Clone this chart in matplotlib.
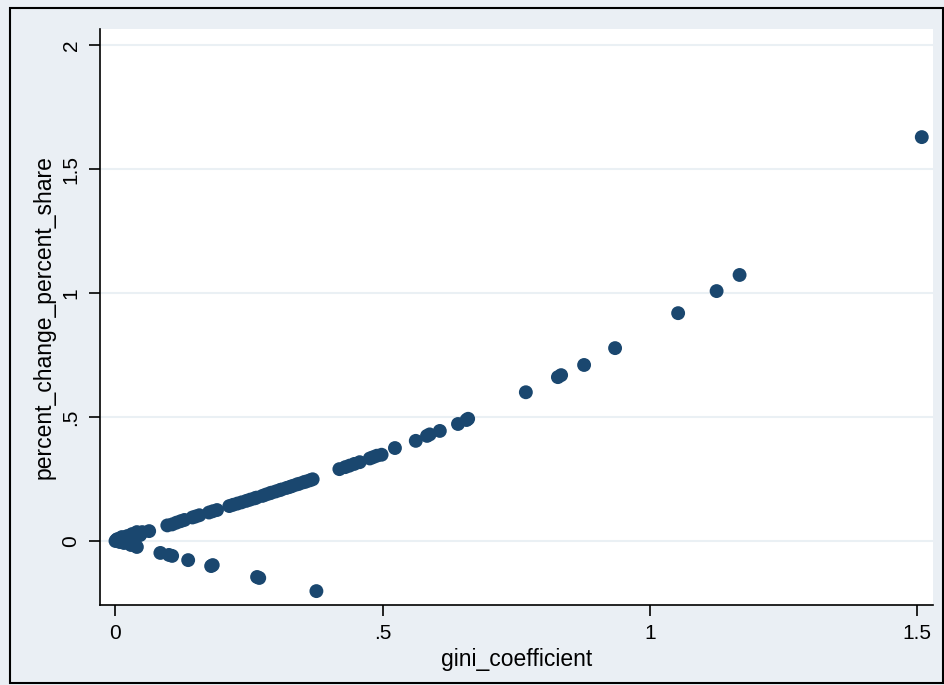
import matplotlib
matplotlib.use("Agg")
import matplotlib.pyplot as plt
from matplotlib.patches import Rectangle

# Data
gini_coefficient = [
    0.000, 0.002, 0.004, 0.012, 0.022, 0.031, 0.040, 0.050, 0.016, 0.029, 0.040, 0.046, 0.063,
    0.097, 0.106, 0.114, 0.122, 0.129, 0.144, 0.150, 0.157, 0.175, 0.182, 0.190, 0.213, 0.220,
    0.228, 0.236, 0.245, 0.252, 0.260, 0.264, 0.275, 0.281, 0.288, 0.292, 0.300, 0.307, 0.311,
    0.320, 0.326, 0.331, 0.339, 0.344, 0.352, 0.357, 0.364, 0.369,
    0.419, 0.430, 0.438, 0.447, 0.457, 0.476, 0.482, 0.489, 0.498, 0.523, 0.562, 0.583, 0.588,
    0.607, 0.641, 0.657, 0.660, 0.768, 0.828, 0.834, 0.877, 0.935, 1.053, 1.125, 1.168, 1.509,
    0.084, 0.100, 0.106, 0.136, 0.179, 0.182, 0.265, 0.269, 0.376,
    0.008, 0.020, 0.034,
]
percent_change_percent_share = [
    0.000, 0.005, 0.008, 0.016, 0.020, 0.028, 0.036, 0.036, -0.008, -0.016, -0.024, 0.024, 0.040,
    0.063, 0.067, 0.074, 0.080, 0.085, 0.095, 0.099, 0.104, 0.115, 0.120, 0.125, 0.141, 0.146,
    0.151, 0.156, 0.162, 0.167, 0.172, 0.175, 0.182, 0.187, 0.192, 0.195, 0.200, 0.205, 0.208,
    0.214, 0.218, 0.222, 0.228, 0.231, 0.237, 0.240, 0.245, 0.249,
    0.290, 0.298, 0.304, 0.311, 0.318, 0.333, 0.338, 0.344, 0.348, 0.375, 0.404, 0.424, 0.430,
    0.444, 0.472, 0.488, 0.493, 0.600, 0.661, 0.669, 0.710, 0.778, 0.919, 1.008, 1.073, 1.629,
    -0.048, -0.056, -0.060, -0.077, -0.101, -0.097, -0.145, -0.149, -0.202,
    -0.004, 0.004, 0.012,
]
x_ticks = [0, 0.5, 1, 1.5]
x_tick_labels = ["0", ".5", "1", "1.5"]
y_ticks = [0, 0.5, 1, 1.5, 2]
y_tick_labels = ["0", ".5", "1", "1.5", "2"]

plt.rcParams['font.family'] = ['Liberation Sans Narrow', 'Liberation Sans', 'DejaVu Sans']

W, H = 945, 685
fig = plt.figure(figsize=(W / 100, H / 100), dpi=100)
bg = '#EAEFF4'
fig.patch.set_facecolor(bg)

# outer black frame
fig.add_artist(Rectangle((10 / W, 1 - 683 / H), (943 - 10) / W, (683 - 8) / H,
                         transform=fig.transFigure, fill=False, edgecolor='black', linewidth=1.5))

ax = fig.add_axes([100 / W, 1 - 605 / H, (933 - 100) / W, (605 - 29) / H])
ax.set_facecolor('white')

for yt in y_ticks:
    ax.axhline(yt, color='#EAF0F4', linewidth=1.5, zorder=0)

ax.scatter(gini_coefficient, percent_change_percent_share, s=100, color='#1A476F',
           edgecolors='none', zorder=3)

ax.set_xlim(-0.029, 1.53)
ax.set_ylim(-0.258, 2.065)

ax.spines['top'].set_visible(False)
ax.spines['right'].set_visible(False)
ax.spines['left'].set_linewidth(1.2)
ax.spines['bottom'].set_linewidth(1.2)

ax.set_xticks(x_ticks)
ax.set_xticklabels(x_tick_labels)
ax.set_yticks(y_ticks)
ax.set_yticklabels(y_tick_labels, rotation=90, va='center')
ax.tick_params(axis='both', direction='out', length=8, width=1.2, labelsize=15, pad=6)

ax.set_xlabel('gini_coefficient', fontsize=16.5, labelpad=3)
ax.set_ylabel('percent_change_percent_share', fontsize=16.5, labelpad=4)

fig.savefig('out.png', dpi=100, facecolor=bg)
